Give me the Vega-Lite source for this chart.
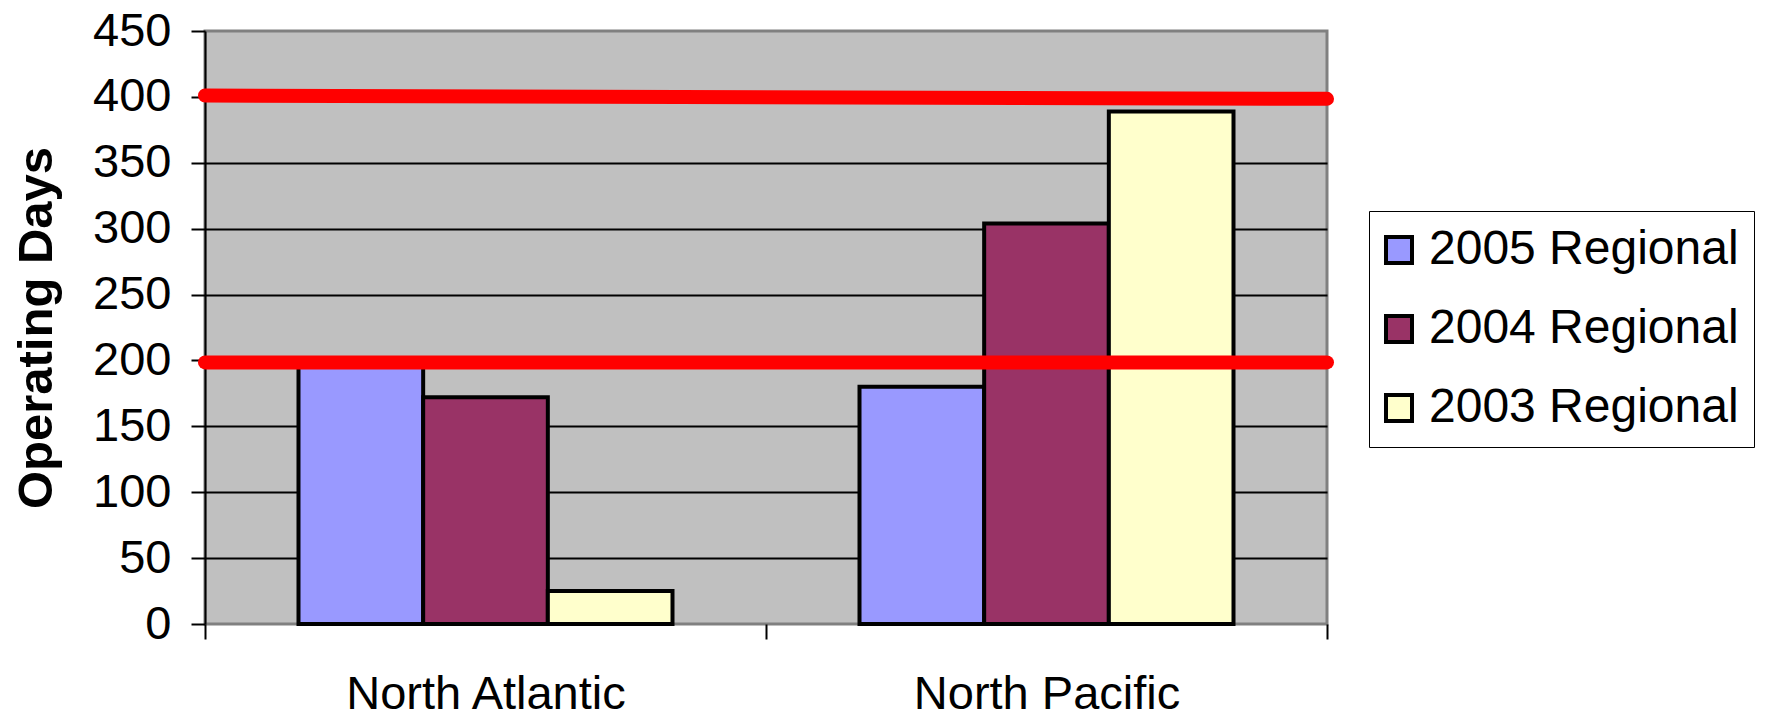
{
  "$schema": "https://vega.github.io/schema/vega-lite/v6.json",
  "width": 1122,
  "height": 593,
  "autosize": {"type": "none"},
  "padding": {"left": 205, "top": 31, "right": 438, "bottom": 96},
  "background": "white",
  "config": {
    "font": "Liberation Sans",
    "view": {"fill": "#C0C0C0", "stroke": "#808080", "strokeWidth": 3}
  },
  "datasets": {
    "bars": [
      {"region": "North Atlantic", "series": "2005 Regional", "days": 195},
      {"region": "North Atlantic", "series": "2004 Regional", "days": 172},
      {"region": "North Atlantic", "series": "2003 Regional", "days": 25},
      {"region": "North Pacific", "series": "2005 Regional", "days": 180},
      {"region": "North Pacific", "series": "2004 Regional", "days": 304},
      {"region": "North Pacific", "series": "2003 Regional", "days": 389}
    ],
    "lines": [
      {"x0": 0, "x1": 1, "y0": 401, "y1": 398.5},
      {"x0": 0, "x1": 1, "y0": 198.5, "y1": 198.5}
    ]
  },
  "layer": [
    {
      "data": {"name": "bars"},
      "mark": {"type": "bar", "stroke": "black", "strokeWidth": 4},
      "encoding": {
        "x": {
          "field": "region",
          "type": "nominal",
          "sort": ["North Atlantic", "North Pacific"],
          "scale": {"paddingInner": 0, "paddingOuter": 0},
          "axis": {
            "title": null,
            "labelFontSize": 47,
            "labelColor": "black",
            "labelPadding": 32,
            "labelLimit": 0,
            "labelAngle": 0,
            "tickBand": "extent",
            "tickSize": 15,
            "tickColor": "black",
            "tickWidth": 2,
            "domain": false,
            "grid": false
          }
        },
        "xOffset": {
          "field": "series",
          "type": "nominal",
          "sort": ["2005 Regional", "2004 Regional", "2003 Regional"],
          "scale": {"paddingInner": 0, "paddingOuter": 0.75}
        },
        "y": {
          "field": "days",
          "type": "quantitative",
          "scale": {"domain": [0, 450], "nice": false},
          "axis": {
            "title": "Operating Days",
            "titleFontSize": 49,
            "titleFontWeight": "bold",
            "titleColor": "black",
            "titleAngle": -90,
            "titleX": -154,
            "titleY": 296.5,
            "titleBaseline": "alphabetic",
            "titleAlign": "center",
            "values": [0, 50, 100, 150, 200, 250, 300, 350, 400, 450],
            "labelFontSize": 47,
            "labelColor": "black",
            "labelPadding": 20,
            "tickSize": 14,
            "tickColor": "black",
            "tickWidth": 2,
            "domainColor": "black",
            "domainWidth": 2,
            "grid": true,
            "gridColor": "black",
            "gridWidth": 2,
            "gridOpacity": {"condition": {"test": "datum.value === 0 || datum.value === 450", "value": 0}, "value": 1}
          }
        },
        "color": {
          "field": "series",
          "type": "nominal",
          "scale": {
            "domain": ["2005 Regional", "2004 Regional", "2003 Regional"],
            "range": ["#9999FF", "#993366", "#FFFFCC"]
          },
          "legend": {
            "title": null,
            "orient": "none",
            "legendX": 1164,
            "legendY": 180,
            "fillColor": "white",
            "strokeColor": "black",
            "padding": 15,
            "symbolType": "square",
            "symbolSize": 676,
            "symbolOffset": -9,
            "symbolStrokeColor": "black",
            "symbolStrokeWidth": 4,
            "symbolOpacity": 1,
            "labelFontSize": 48,
            "labelColor": "black",
            "labelOffset": 6,
            "labelLimit": 0,
            "rowPadding": 31
          }
        }
      }
    },
    {
      "data": {"name": "lines"},
      "mark": {"type": "rule", "color": "#FF0000", "strokeWidth": 14, "strokeCap": "round"},
      "encoding": {
        "x": {"field": "x0", "type": "quantitative", "scale": {"domain": [0, 1], "nice": false, "zero": false}, "axis": null},
        "x2": {"field": "x1"},
        "y": {"field": "y0", "type": "quantitative"},
        "y2": {"field": "y1"}
      }
    }
  ],
  "resolve": {"scale": {"x": "independent"}}
}
